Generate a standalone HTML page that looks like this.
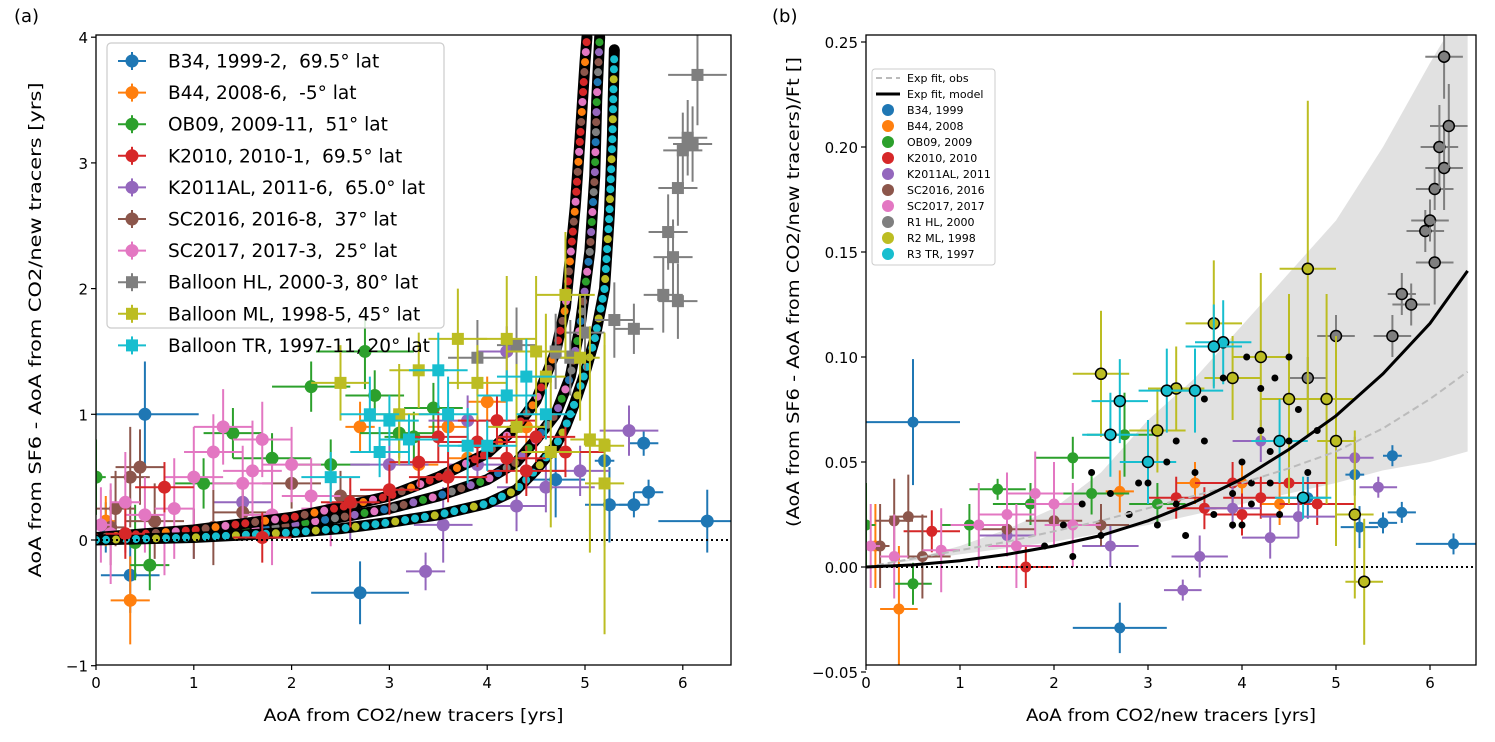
<!DOCTYPE html>
<html><head><meta charset="utf-8">
<style>
body{margin:0;background:#fff;}
svg{display:block;font-family:"DejaVu Sans","Liberation Sans",sans-serif;}
</style></head>
<body>
<svg id="fig" width="1495" height="742" viewBox="0 0 1495 742" xmlns="http://www.w3.org/2000/svg">
<rect width="1495" height="742" fill="#fff"/>
<g id="L"></g>
<g id="R"></g>
</svg>
<script>
const NS="http://www.w3.org/2000/svg";
const COLORS=["#1f77b4","#ff7f0e","#2ca02c","#d62728","#9467bd","#8c564b","#e377c2","#7f7f7f","#bcbd22","#17becf"];
const leftNames=["B34, 1999-2,\u00a0 69.5° lat","B44, 2008-6,\u00a0 -5° lat","OB09, 2009-11,\u00a0 51° lat","K2010, 2010-1,\u00a0 69.5° lat","K2011AL, 2011-6,\u00a0 65.0° lat","SC2016, 2016-8,\u00a0 37° lat","SC2017, 2017-3,\u00a0 25° lat","Balloon HL, 2000-3, 80° lat","Balloon ML, 1998-5, 45° lat","Balloon TR, 1997-11, 20° lat"];
const rightNames=["B34, 1999","B44, 2008","OB09, 2009","K2010, 2010","K2011AL, 2011","SC2016, 2016","SC2017, 2017","R1 HL, 2000","R2 ML, 1998","R3 TR, 1997"];
const xTicks=[0,1,2,3,4,5,6];
const yTicksL=[-1,0,1,2,3,4];
const yTicksR=[-0.05,0,0.05,0.1,0.15,0.2,0.25];
const yTickLabelsR=["−0.05","0.00","0.05","0.10","0.15","0.20","0.25"];
// left panel obs: [x,y,xerr,yerr]
const L0=[[0.5,1.0,0.55,0.42],[0.35,-0.28,0.3,0.3],[2.7,-0.42,0.5,0.25],[4.7,0.48,0.3,0.3],[5.25,0.28,0.25,0.3],[5.5,0.28,0.15,0.1],[5.65,0.38,0.15,0.1],[5.6,0.77,0.15,0.1],[6.25,0.15,0.5,0.25],[5.2,0.63,0.1,0.2],[0.1,0.1,0.1,0.2]];
const L1=[[0.35,-0.48,0.2,0.35],[0.1,0.15,0.1,0.2],[2.7,0.9,0.15,0.2],[3.8,0.65,0.2,0.2],[4.0,1.1,0.2,0.2],[3.6,0.9,0.2,0.2],[4.4,0.9,0.2,0.2],[3.3,0.6,0.2,0.2]];
const L2=[[0.0,0.5,0.1,0.3],[0.4,-0.02,0.2,0.3],[0.55,-0.2,0.2,0.2],[1.1,0.45,0.3,0.2],[1.4,0.85,0.3,0.2],[2.2,1.22,0.4,0.2],[2.75,1.5,0.5,0.3],[2.85,1.15,0.3,0.2],[3.1,0.85,0.4,0.2],[3.25,0.82,0.3,0.2],[3.45,1.05,0.3,0.2],[1.8,0.65,0.4,0.2],[2.4,0.6,0.4,0.2]];
const L3=[[0.7,0.42,0.3,0.2],[0.3,0.05,0.2,0.2],[1.7,0.02,0.3,0.2],[3.3,0.62,0.3,0.2],[3.6,0.5,0.4,0.2],[3.9,0.78,0.4,0.2],[4.2,0.65,0.4,0.2],[4.4,0.55,0.4,0.2],[4.5,0.82,0.4,0.2],[4.1,0.95,0.4,0.2],[3.5,0.82,0.3,0.2],[4.8,0.7,0.4,0.2],[3.0,0.4,0.3,0.2],[2.6,0.3,0.3,0.2]];
const L4=[[1.0,0.05,0.2,0.2],[1.5,0.3,0.3,0.2],[2.6,0.2,0.3,0.2],[3.0,0.6,0.4,0.2],[3.37,-0.25,0.2,0.15],[3.55,0.12,0.3,0.3],[3.9,0.6,0.3,0.2],[4.2,1.5,0.3,0.2],[4.3,0.27,0.3,0.2],[4.6,0.42,0.5,0.2],[5.45,0.87,0.3,0.2],[4.95,0.55,0.3,0.2],[3.8,0.95,0.4,0.2]];
const L5=[[0.15,0.1,0.15,0.3],[0.2,0.25,0.2,0.3],[0.35,0.5,0.2,0.4],[0.45,0.58,0.25,0.3],[0.6,0.15,0.3,0.3],[1.0,0.05,0.3,0.2],[1.5,0.22,0.3,0.2],[2.0,0.45,0.3,0.2],[2.5,0.35,0.3,0.2],[1.2,0.1,0.3,0.3]];
const L6=[[0.05,0.12,0.1,0.3],[0.15,0.05,0.1,0.4],[0.3,0.3,0.15,0.4],[0.5,0.2,0.2,0.3],[0.8,0.25,0.2,0.4],[1.0,0.5,0.3,0.4],[1.2,0.7,0.3,0.3],[1.5,0.45,0.3,0.3],[1.7,0.8,0.3,0.3],[1.8,0.2,0.3,0.4],[2.0,0.6,0.3,0.3],[2.2,0.35,0.3,0.3],[1.3,0.9,0.3,0.3],[0.7,0.02,0.2,0.3],[2.4,0.25,0.3,0.3],[1.6,0.55,0.3,0.4]];
const L7=[[5.0,1.65,0.2,0.3],[5.3,1.75,0.2,0.3],[5.5,1.68,0.2,0.2],[5.8,1.95,0.2,0.3],[5.95,1.9,0.2,0.3],[5.85,2.45,0.2,0.3],[5.9,2.25,0.2,0.3],[5.95,2.8,0.2,0.3],[6.0,3.1,0.2,0.3],[6.05,3.2,0.2,0.3],[6.1,3.15,0.2,0.3],[6.15,3.7,0.3,0.4],[4.7,1.5,0.2,0.3],[3.9,1.45,0.3,0.3],[4.3,1.55,0.2,0.3],[4.85,1.45,0.2,0.3]];
const L8=[[2.5,1.25,0.3,0.3],[3.1,1.0,0.3,0.4],[3.3,1.35,0.3,0.3],[3.7,1.6,0.3,0.4],[3.9,1.25,0.3,0.3],[4.2,1.6,0.3,0.5],[4.5,1.5,0.3,0.6],[4.8,1.95,0.3,0.5],[4.6,1.3,0.2,0.5],[5.05,0.8,0.2,0.9],[5.2,0.45,0.2,1.2],[4.95,1.45,0.2,0.5],[5.2,0.75,0.2,0.8],[4.3,0.9,0.3,0.5],[4.65,0.7,0.3,0.6]];
const L9=[[2.8,1.0,0.3,0.3],[3.0,0.95,0.3,0.2],[3.2,0.8,0.3,0.2],[3.5,1.35,0.3,0.3],[4.0,0.75,0.3,0.2],[4.2,1.15,0.3,0.2],[4.4,1.3,0.3,0.3],[4.6,1.0,0.3,0.2],[2.9,0.7,0.3,0.2],[3.6,1.0,0.3,0.3],[3.8,0.75,0.3,0.3],[2.4,0.5,0.3,0.2]];
// left model curves
const mLowX=[0,0.5,1,1.5,2,2.5,3,3.5,4,4.3,4.5,4.7,4.8,4.9,5.0,5.1,5.2,5.25,5.28,5.3];
const mLowY=[0,0.01,0.02,0.04,0.06,0.09,0.14,0.2,0.29,0.4,0.56,0.75,0.9,1.1,1.33,1.6,2.0,2.6,3.2,3.9];
const mMidX=[0,0.5,1,1.5,2,2.5,3,3.5,4,4.3,4.5,4.7,4.85,4.95,5.05,5.1,5.12,5.15];
const mMidY=[0.01,0.03,0.05,0.08,0.12,0.18,0.25,0.35,0.48,0.62,0.8,1.0,1.3,1.7,2.3,2.9,3.5,4.0];
const mUpX=[0,0.5,1,1.5,2,2.5,3,3.5,4,4.3,4.5,4.7,4.8,4.9,4.95,5.0,5.02];
const mUpY=[0.02,0.05,0.08,0.13,0.18,0.26,0.35,0.5,0.69,0.9,1.11,1.5,1.85,2.65,3.2,3.8,4.0];
// right panel obs
const R0=[[0.5,0.069,0.5,0.03],[2.7,-0.029,0.5,0.012],[5.25,0.019,0.2,0.01],[5.5,0.021,0.15,0.005],[5.7,0.026,0.15,0.005],[5.6,0.053,0.1,0.005],[6.25,0.011,0.4,0.005],[5.2,0.044,0.1,0.01],[4.7,0.033,0.2,0.01]];
const R1=[[0.35,-0.02,0.2,0.03],[0.1,0.01,0.1,0.02],[3.5,0.04,0.2,0.01],[4.0,0.04,0.2,0.01],[4.4,0.03,0.2,0.01],[2.7,0.036,0.15,0.01]];
const R2=[[0.0,0.02,0.1,0.02],[0.5,-0.008,0.2,0.01],[1.1,0.02,0.3,0.01],[1.4,0.037,0.3,0.005],[2.2,0.052,0.4,0.01],[2.75,0.063,0.4,0.02],[1.75,0.03,0.4,0.01],[2.4,0.035,0.4,0.01],[3.1,0.03,0.3,0.01]];
const R3=[[0.7,0.017,0.3,0.01],[1.7,0.0,0.3,0.01],[3.3,0.033,0.3,0.01],[3.6,0.028,0.4,0.01],[3.9,0.04,0.4,0.01],[4.2,0.033,0.4,0.01],[4.5,0.04,0.4,0.01],[4.8,0.03,0.4,0.01],[4.0,0.025,0.4,0.01]];
const R4=[[1.5,0.015,0.3,0.01],[2.6,0.01,0.3,0.01],[3.37,-0.011,0.2,0.005],[3.55,0.005,0.3,0.01],[3.9,0.028,0.3,0.01],[4.3,0.014,0.3,0.01],[4.6,0.024,0.4,0.01],[5.45,0.038,0.2,0.005],[5.2,0.052,0.2,0.01],[4.2,0.06,0.3,0.01]];
const R5=[[0.15,0.01,0.1,0.02],[0.3,0.022,0.2,0.02],[0.45,0.024,0.2,0.02],[0.6,0.005,0.3,0.02],[1.5,0.018,0.3,0.01],[2.0,0.022,0.3,0.01],[2.5,0.02,0.3,0.01]];
const R6=[[0.05,0.01,0.1,0.02],[0.3,0.005,0.15,0.02],[0.8,0.008,0.2,0.02],[1.2,0.02,0.3,0.02],[1.5,0.025,0.3,0.02],[1.8,0.035,0.3,0.02],[2.0,0.03,0.3,0.02],[2.2,0.02,0.3,0.02],[1.6,0.01,0.3,0.02]];
const R7=[[5.0,0.11,0.2,0.01],[5.6,0.11,0.2,0.01],[5.7,0.13,0.15,0.01],[5.8,0.125,0.2,0.01],[5.95,0.16,0.2,0.01],[6.0,0.165,0.2,0.01],[6.05,0.18,0.2,0.01],[6.1,0.2,0.2,0.02],[6.15,0.19,0.2,0.02],[6.2,0.21,0.2,0.02],[6.15,0.243,0.2,0.02],[6.05,0.145,0.2,0.02],[4.7,0.09,0.2,0.01]];
const R8=[[2.5,0.092,0.3,0.03],[3.1,0.065,0.3,0.02],[3.3,0.085,0.3,0.02],[3.7,0.116,0.3,0.03],[3.9,0.09,0.3,0.02],[4.2,0.1,0.3,0.04],[4.5,0.08,0.3,0.05],[4.7,0.142,0.3,0.08],[4.9,0.08,0.3,0.05],[5.2,0.025,0.2,0.04],[5.3,-0.007,0.2,0.03],[5.0,0.06,0.2,0.05]];
const R9=[[2.7,0.079,0.3,0.02],[2.6,0.063,0.3,0.02],[3.0,0.05,0.3,0.02],[3.2,0.084,0.3,0.02],[3.5,0.084,0.3,0.02],[3.8,0.107,0.3,0.02],[3.7,0.105,0.3,0.02],[4.4,0.06,0.3,0.02],[4.65,0.033,0.3,0.01]];
// right model points
const modX=[1.9,2.1,2.3,2.5,2.6,2.8,3.0,3.1,3.2,3.3,3.4,3.5,3.6,3.7,3.8,3.9,4.0,4.05,4.1,4.2,4.3,4.35,4.4,4.5,4.6,4.7,4.8,2.2,2.4,3.6,3.9,4.1,4.2,4.5,3.3,2.9,4.0,4.3];
const modY=[0.01,0.02,0.03,0.015,0.035,0.025,0.04,0.02,0.05,0.03,0.015,0.045,0.06,0.025,0.09,0.035,0.05,0.1,0.03,0.065,0.04,0.09,0.025,0.06,0.075,0.045,0.065,0.005,0.045,0.08,0.02,0.04,0.085,0.1,0.06,0.04,0.02,0.055];
const fitX=[0,0.5,1,1.5,2,2.5,3,3.5,4,4.5,5,5.5,6,6.4];
const fitModelY=[0,0.001,0.003,0.006,0.01,0.015,0.022,0.031,0.042,0.056,0.072,0.092,0.116,0.141];
const fitObsY=[0,0.004,0.008,0.012,0.017,0.022,0.028,0.034,0.04,0.047,0.055,0.066,0.08,0.093];
const bandUpY=[0,0.004,0.01,0.018,0.028,0.045,0.07,0.09,0.115,0.14,0.165,0.2,0.24,0.27];
const bandLoY=[0,0.003,0.006,0.009,0.012,0.016,0.02,0.025,0.03,0.035,0.04,0.046,0.05,0.055];

function el(tag,attrs,parent){const e=document.createElementNS(NS,tag);for(const k in attrs)e.setAttribute(k,attrs[k]);parent.appendChild(e);return e;}
const LX0=96,LX1=731,LY0=35,LY1=665;
const RX0=866,RX1=1476;
const xL=v=>LX0+v*97.8, yL=v=>540-v*125.7;
const xR=v=>RX0+v*94, yR=v=>567-v*2100;
const L=document.getElementById('L'), R=document.getElementById('R');

function clip(id,x0,y0,x1,y1){const d=el('defs',{},document.getElementById('fig'));const c=el('clipPath',{id:id},d);el('rect',{x:x0,y:y0,width:x1-x0,height:y1-y0},c);}
clip('cl',LX0,LY0,LX1,LY1);clip('cr',RX0,LY0,RX1,LY1);
const gL=el('g',{'clip-path':'url(#cl)'},L);

const gR=el('g',{'clip-path':'url(#cr)'},R);


function errPoint(g,fx,fy,p,color,square,r){
  const x=fx(p[0]),y=fy(p[1]);
  el('line',{x1:fx(p[0]-p[2]),x2:fx(p[0]+p[2]),y1:y,y2:y,stroke:color,'stroke-width':2},g);
  el('line',{x1:x,x2:x,y1:fy(p[1]-p[3]),y2:fy(p[1]+p[3]),stroke:color,'stroke-width':2},g);
  let m;
  if(square){m=el('rect',{x:x-6,y:y-6,width:12,height:12,fill:color},g);}
  else{m=el('circle',{cx:x,cy:y,r:r,fill:color},g);}
  return m;
}
const leftSeries=[L0,L1,L2,L3,L4,L5,L6,L7,L8,L9];
function drawLeftObs(idx){
  const g=el('g',{},gL);
  
  
  leftSeries[idx].forEach(p=>{const m=errPoint(g,xL,yL,p,COLORS[idx],idx>=7,6.5);
    
    });
}
[0,1,2,4,5,6].forEach(drawLeftObs);
function drawModel(xs,ys,dotColors){
  const g=el('g',{},gL);
  
  
  const d=xs.map((v,i)=>(i?'L':'M')+xL(v)+','+yL(ys[i])).join(' ');
  const path=el('path',{d:d,fill:'none',stroke:'#000','stroke-width':11,'stroke-linejoin':'round','stroke-linecap':'round'},g);
  const len=path.getTotalLength();
  let k=0;
  for(let s=0;s<=len;s+=10){const pt=path.getPointAtLength(s);
    el('circle',{cx:pt.x,cy:pt.y,r:4,fill:dotColors[k%dotColors.length]},g);k++;}
}
drawModel(mMidX,mMidY,[COLORS[7],COLORS[5],COLORS[4],COLORS[2],COLORS[6],COLORS[0]]);
drawModel(mUpX,mUpY,[COLORS[3],COLORS[5],COLORS[1],COLORS[6],COLORS[3]]);
drawModel(mLowX,mLowY,[COLORS[9],COLORS[9],COLORS[8],COLORS[9]]);
[3,7,8,9].forEach(drawLeftObs);
el('line',{x1:LX0,x2:LX1,y1:yL(0),y2:yL(0),stroke:'#000','stroke-width':2,'stroke-dasharray':'2,3'},gL);

// right panel
const band=fitX.map((v,i)=>xR(v)+','+yR(bandUpY[i])).concat(fitX.slice().reverse().map((v,i)=>xR(v)+','+yR(bandLoY[fitX.length-1-i]))).join(' ');
const bp=el('polygon',{points:band,fill:'#dcdcdc',opacity:0.85},gR);

const rightSeries=[R0,R1,R2,R3,R4,R5,R6,R7,R8,R9];
const gRO=el('g',{},gR);
const gRM=el('g',{},gR);
rightSeries.forEach((s,idx)=>{
  const g=el('g',{},gRO);
  
  
  s.forEach(p=>{const m=errPoint(g,xR,yR,p,COLORS[idx],false,5.5);
    
    
    if(idx>=7){m.setAttribute('stroke','#000');m.setAttribute('stroke-width',1.5);}});
});

modX.forEach((v,i)=>{el('circle',{cx:xR(v),cy:yR(modY[i]),r:3.5,fill:'#000'},gRM);});
const po=el('path',{d:fitX.map((v,i)=>(i?'L':'M')+xR(v)+','+yR(fitObsY[i])).join(' '),fill:'none',stroke:'#bbb','stroke-width':2,'stroke-dasharray':'7,4'},gR);

const pm=el('path',{d:fitX.map((v,i)=>(i?'L':'M')+xR(v)+','+yR(fitModelY[i])).join(' '),fill:'none',stroke:'#000','stroke-width':3},gR);

el('line',{x1:RX0,x2:RX1,y1:yR(0),y2:yR(0),stroke:'#000','stroke-width':2,'stroke-dasharray':'2,3'},gR);

function axes(g,x0,x1,fx,fy,yt,ytl,ylab,xlab,tag,xlLen,ylC,ylLen,ylX){
  const f=el('rect',{x:x0,y:LY0,width:x1-x0,height:LY1-LY0,fill:'none',stroke:'#000','stroke-width':1.3},g);
  
  xTicks.forEach(t=>{const x=fx(t);el('line',{x1:x,x2:x,y1:LY1,y2:LY1+5,stroke:'#000','stroke-width':1.2},g);
    const tx=el('text',{x:x,y:LY1+23,'font-size':15,'text-anchor':'middle'},g);tx.textContent=t;
    });
  yt.forEach((t,i)=>{const y=fy(t);el('line',{x1:x0-5,x2:x0,y1:y,y2:y,stroke:'#000','stroke-width':1.2},g);
    const tx=el('text',{x:x0-8,y:y+6,'font-size':15,'text-anchor':'end'},g);tx.textContent=ytl[i];
    });
  const xl=el('text',{x:(x0+x1)/2,y:721,'font-size':16.5,'text-anchor':'middle',textLength:xlLen,lengthAdjust:'spacingAndGlyphs'},g);xl.textContent=xlab;
  
  const yl=el('text',{x:ylX,y:ylC,'font-size':16.5,'text-anchor':'middle',textLength:ylLen,lengthAdjust:'spacingAndGlyphs',transform:`rotate(-90 ${ylX} ${ylC})`},g);yl.textContent=ylab;
  
}
axes(L,LX0,LX1,xL,yL,yTicksL,["−1","0","1","2","3","4"],"AoA from SF6 - AoA from CO2/new tracers [yrs]","AoA from CO2/new tracers [yrs]",'a',300,330,495,41);
axes(R,RX0,RX1,xR,yR,yTicksR,yTickLabelsR,"(AoA from SF6 - AoA from CO2/new tracers)/Ft []","AoA from CO2/new tracers [yrs]",'b',290,292,470,799);
const ta=el('text',{x:14,y:22,'font-size':18},L);ta.textContent="(a)";
const tb=el('text',{x:772,y:22,'font-size':18},R);tb.textContent="(b)";

const lg=el('g',{},L);
el('rect',{x:107,y:43,width:337,height:285,rx:4,fill:'#fff','fill-opacity':0.85,stroke:'#ccc','stroke-width':1.2},lg);
leftNames.forEach((n,i)=>{const y=61+i*31.6,c=COLORS[i];
  const e=el('g',{},lg);
  el('line',{x1:118,x2:146,y1:y,y2:y,stroke:c,'stroke-width':2},e);
  el('line',{x1:132,x2:132,y1:y-9,y2:y+9,stroke:c,'stroke-width':2},e);
  if(i>=7)el('rect',{x:126,y:y-6,width:12,height:12,fill:c},e);else el('circle',{cx:132,cy:y,r:6.5,fill:c},e);
  const t=el('text',{x:168,y:y+6.5,'font-size':18.5},e);t.textContent=n;});
const rg=el('g',{},R);
el('rect',{x:872,y:69,width:123,height:196,rx:3,fill:'#fff','fill-opacity':0.85,stroke:'#ccc','stroke-width':1},rg);
const e1=el('g',{},rg);
el('line',{x1:876,x2:900,y1:78,y2:78,stroke:'#bbb','stroke-width':2,'stroke-dasharray':'6,4'},e1);
el('text',{x:907,y:82,'font-size':11},e1).textContent="Exp fit, obs";
const e2=el('g',{},rg);
el('line',{x1:876,x2:900,y1:94,y2:94,stroke:'#000','stroke-width':3},e2);
el('text',{x:907,y:98,'font-size':11},e2).textContent="Exp fit, model";
rightNames.forEach((n,i)=>{const y=110+i*16;
  const e=el('g',{},rg);
  el('circle',{cx:888,cy:y,r:6,fill:COLORS[i]},e);
  el('text',{x:907,y:y+4,'font-size':11},e).textContent=n;});
</script>
</body></html>
